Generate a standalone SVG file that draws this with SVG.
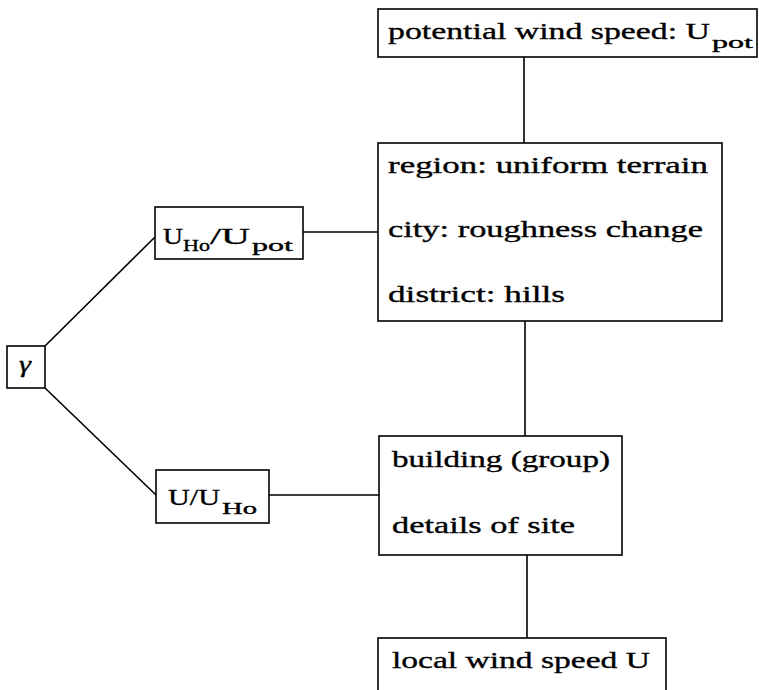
<svg xmlns="http://www.w3.org/2000/svg" width="759" height="690" viewBox="0 0 759 690">
<style>
.box{fill:#fff;stroke:#000;stroke-width:1.6}
.ln{stroke:#000;stroke-width:1.6;fill:none}
text{font-family:"Liberation Serif","DejaVu Serif",serif;font-size:24px;fill:#000;stroke:#000;stroke-width:0.35}
.sub{font-size:16px}
.it{font-style:italic}
</style>
<rect width="759" height="690" fill="#fff"/>
<g id="connectors">
<line class="ln" x1="524" y1="57" x2="524" y2="143"/>
<line class="ln" x1="525" y1="321" x2="525" y2="436"/>
<line class="ln" x1="527" y1="555" x2="527" y2="638"/>
<line class="ln" x1="45" y1="346" x2="155" y2="237"/>
<line class="ln" x1="45" y1="388" x2="156" y2="495"/>
<line class="ln" x1="303" y1="232" x2="378" y2="232"/>
<line class="ln" x1="269" y1="495" x2="379" y2="495"/>
</g>
<g id="n-upot">
<rect class="box" x="378" y="9" width="379" height="48"/>
<text x="388" y="39" textLength="322" lengthAdjust="spacingAndGlyphs">potential wind speed: U</text>
<text class="sub" x="712" y="48" textLength="41" lengthAdjust="spacingAndGlyphs">pot</text>
</g>
<g id="n-terrain">
<rect class="box" x="378" y="143" width="344" height="178"/>
<text x="388" y="173" textLength="320" lengthAdjust="spacingAndGlyphs">region: uniform terrain</text>
<text x="388" y="237" textLength="315" lengthAdjust="spacingAndGlyphs">city: roughness change</text>
<text x="388" y="302" textLength="177" lengthAdjust="spacingAndGlyphs">district: hills</text>
</g>
<g id="n-building">
<rect class="box" x="379" y="436" width="243" height="119"/>
<text x="392" y="467" textLength="218" lengthAdjust="spacingAndGlyphs">building (group)</text>
<text x="392" y="533" textLength="183" lengthAdjust="spacingAndGlyphs">details of site</text>
</g>
<g id="n-local">
<rect class="box" x="378" y="638" width="288" height="60"/>
<text x="392" y="668" textLength="258" lengthAdjust="spacingAndGlyphs">local wind speed U</text>
</g>
<g id="n-gamma">
<rect class="box" x="7" y="346" width="38" height="42"/>
<text class="it" x="19" y="372" textLength="12" lengthAdjust="spacingAndGlyphs">γ</text>
</g>
<g id="n-ratio1">
<rect class="box" x="155" y="207" width="148" height="52"/>
<text x="163" y="244" textLength="20" lengthAdjust="spacingAndGlyphs">U</text>
<text class="sub" x="183" y="251" textLength="27" lengthAdjust="spacingAndGlyphs">Ho</text>
<text x="210" y="244" textLength="40" lengthAdjust="spacingAndGlyphs">/U</text>
<text class="sub" x="252" y="251" textLength="41" lengthAdjust="spacingAndGlyphs">pot</text>
</g>
<g id="n-ratio2">
<rect class="box" x="156" y="470" width="113" height="53"/>
<text x="168" y="505" textLength="52" lengthAdjust="spacingAndGlyphs">U/U</text>
<text class="sub" x="222" y="514" textLength="35" lengthAdjust="spacingAndGlyphs">Ho</text>
</g>
</svg>
